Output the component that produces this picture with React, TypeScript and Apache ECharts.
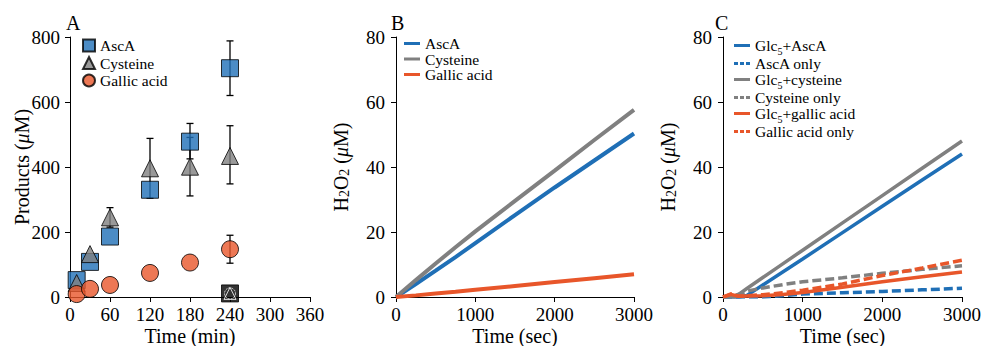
import React, { useEffect, useRef } from 'react';
import * as echarts from 'echarts';

const FONT = 'Liberation Serif';
const BLUE = '#1f6fb6';
const GRAY = '#808080';
const ORANGE = '#e8562a';

// ---------- Panel A ----------
const timesA = [10, 30, 60, 120, 180, 240];
const ascA = [52, 108, 186, 330, 478, 704];
const cysteineA = [43, 132, 245, 396, 401, 434];
const gallicA = [9, 25, 37, 74, 106, 147];
// [time, low, high]
const ascAErr = [[180, 425, 534], [240, 620, 788]];
const cysteineErr = [[60, 215, 275], [120, 304, 488], [180, 311, 491], [240, 348, 527]];
const gallicErr = [[240, 104, 190]];
const controlTime = [240];
const controlValue = [11];
const xTicksA = [0, 360, 60];
const yTicksA = [0, 800, 200];

// ---------- Panel B ----------
const timeB = [0, 250, 500, 750, 1000, 1500, 2000, 2500, 3000];
const ascB = [0, 4.0, 8.1, 12.3, 16.6, 25.2, 33.7, 42.0, 50.3];
const cysB = [0, 5.2, 10.3, 15.3, 20.2, 29.6, 38.9, 48.3, 57.6];
const galB = [0, 0.5, 1.1, 1.6, 2.2, 3.4, 4.6, 5.8, 7.0];

// ---------- Panel C ----------
const timeC = [0, 100, 150, 200, 300, 500, 750, 1000, 1500, 2000, 2500, 3000];
const glcAscC = [0, 0, 0, 0, 0.5, 3.7, 7.7, 11.7, 19.8, 27.9, 36.0, 44.0];
const ascOnlyC = [0, 0, 0, 0, 0, 0, 0.4, 0.9, 1.3, 1.7, 2.2, 2.7];
const glcCysC = [0, 0, 0, 0.9, 2.6, 6.0, 10.2, 14.4, 22.8, 31.2, 39.6, 48.0];
const cysOnlyC = [0, 0.3, 0.5, 0.9, 1.8, 2.8, 3.8, 4.7, 5.9, 7.3, 8.5, 9.6];
const glcGalC = [0, 0.8, 0.5, 0.2, 0.3, 0.4, 0.8, 1.4, 3.0, 4.7, 6.2, 7.7];
const galOnlyC = [0, 1.0, 0.6, 0.2, 0.4, 0.7, 1.3, 2.1, 4.0, 6.6, 8.9, 11.3];
const xTicksBC = [0, 3000, 1000];
const yTicksBC = [0, 80, 20];

const zip = (xs: number[], ys: number[]) => xs.map((x, i) => [x, ys[i]]);

const SOLID_ICON = 'path://M0 0H16V3H0Z';
const DASH_ICON = 'path://M0 0H4V3H0Z M6 0H10V3H6Z M12 0H16V3H12Z';

const LEG_FS = 15.5;
const NAME_FS = 20;
const TICK_FS = 19;

const legendRich = {
  a: { fontFamily: FONT, fontSize: LEG_FS, lineHeight: 15, color: '#000' },
};
const legendRichC = {
  a: { fontFamily: FONT, fontSize: LEG_FS, lineHeight: 21, color: '#000' },
  s: { fontFamily: FONT, fontSize: 10, color: '#000', lineHeight: 6, padding: [9, 0, 0, 0], verticalAlign: 'bottom' },
};
const nameRich = {
  a: { fontFamily: FONT, fontSize: NAME_FS, lineHeight: 20, color: '#000' },
  i: { fontFamily: FONT, fontSize: NAME_FS, lineHeight: 20, color: '#000', fontStyle: 'italic' },
  s: { fontFamily: FONT, fontSize: 14, color: '#000', lineHeight: 8, padding: [12, 0, 0, 0], verticalAlign: 'bottom' },
};

const legendFormat = (name: string) => {
  const n = name.replace(/^[A-C]:/, '');
  if (n.startsWith('Glc5')) return '{a|Glc}{s|5}{a|' + n.slice(4) + '}';
  return '{a|' + n + '}';
};

function axisX(gridIndex: number, t: number[], name: string) {
  return {
    type: 'value', gridIndex, min: t[0], max: t[1], interval: t[2],
    name, nameLocation: 'middle', nameGap: 29, nameMoveOverlap: false,
    nameTextStyle: { fontFamily: FONT, fontSize: NAME_FS, color: '#000', fontWeight: 'normal' },
    axisLine: { show: true, onZero: false, lineStyle: { color: '#000', width: 1 } },
    axisTick: { show: true, length: 5, lineStyle: { color: '#000' } },
    axisLabel: { color: '#000', fontFamily: FONT, fontSize: TICK_FS, margin: 8, formatter: (v: number) => String(v) },
    splitLine: { show: false },
  };
}
function axisY(gridIndex: number, t: number[], name: string, gap: number, margin: number) {
  return {
    type: 'value', gridIndex, min: t[0], max: t[1], interval: t[2],
    name, nameLocation: 'middle', nameGap: gap, nameRotate: 90, nameMoveOverlap: false,
    nameTextStyle: { rich: nameRich },
    axisLine: { show: true, onZero: false, lineStyle: { color: '#000', width: 1 } },
    axisTick: { show: true, length: 5, lineStyle: { color: '#000' } },
    axisLabel: { color: '#000', fontFamily: FONT, fontSize: TICK_FS, margin, formatter: (v: number) => String(v) },
    splitLine: { show: false },
  };
}

function errSeries(data: number[][]) {
  return {
    type: 'custom', xAxisIndex: 0, yAxisIndex: 0, z: 1, silent: true,
    data,
    encode: { x: 0, y: [1, 2] },
    renderItem: (params: any, api: any) => {
      const x = api.value(0);
      const lo = api.coord([x, api.value(1)]);
      const hi = api.coord([x, api.value(2)]);
      const c = 3.5;
      const st = { stroke: '#000', lineWidth: 1.3 };
      return {
        type: 'group',
        children: [
          { type: 'line', shape: { x1: lo[0], y1: lo[1], x2: hi[0], y2: hi[1] }, style: st },
          { type: 'line', shape: { x1: hi[0] - c, y1: hi[1], x2: hi[0] + c, y2: hi[1] }, style: st },
          { type: 'line', shape: { x1: lo[0] - c, y1: lo[1], x2: lo[0] + c, y2: lo[1] }, style: st },
        ],
      };
    },
  };
}

function lineSeries(name: string, axis: number, xs: number[], ys: number[], color: string, width: number, dashed: boolean) {
  return {
    name, type: 'line', xAxisIndex: axis, yAxisIndex: axis,
    data: zip(xs, ys), showSymbol: false, symbol: 'none', smooth: false,
    lineStyle: { color, width, type: dashed ? [9, 4] : 'solid', cap: 'butt' },
    itemStyle: { color },
  };
}

const lineLegend = (names: string[], dashed: boolean[]) =>
  names.map((n, i) => ({ name: n, icon: dashed[i] ? DASH_ICON : SOLID_ICON }));

export default function App() {
  const ref = useRef<HTMLDivElement>(null);
  useEffect(() => {
    document.body.style.margin = '0';
    const chart = echarts.init(ref.current!, undefined, { renderer: 'svg' });
    const letter = (t: string, x: number) => ({
      type: 'text', left: x, top: 13,
      style: { text: t, fontFamily: FONT, fontSize: NAME_FS, fill: '#000' },
    });
    chart.setOption({
      animation: false,
      grid: [
        { left: 70, top: 37, width: 240, height: 260, outerBoundsMode: 'none', containLabel: false },
        { left: 396, top: 37, width: 238, height: 260, outerBoundsMode: 'none', containLabel: false },
        { left: 723, top: 37, width: 239, height: 260, outerBoundsMode: 'none', containLabel: false },
      ],
      xAxis: [
        axisX(0, xTicksA, 'Time (min)'),
        axisX(1, xTicksBC, 'Time (sec)'),
        axisX(2, xTicksBC, 'Time (sec)'),
      ],
      yAxis: [
        axisY(0, yTicksA, '{a|Products (}{i|μ}{a|M)}', 38, 10),
        axisY(1, yTicksBC, '{a|H}{s|2}{a|O}{s|2}{a| (}{i|μ}{a|M)}', 45, 11),
        axisY(2, yTicksBC, '{a|H}{s|2}{a|O}{s|2}{a| (}{i|μ}{a|M)}', 45, 11),
      ],
      legend: [
        {
          data: ['A:AscA', 'A:Cysteine', 'A:Gallic acid'], orient: 'vertical', padding: 0,
          left: 82, top: 37.5, itemWidth: 12, itemHeight: 12, itemGap: 1.5,
          formatter: legendFormat, textStyle: { rich: legendRich },
          selectedMode: false,
        },
        {
          data: lineLegend(['B:AscA', 'B:Cysteine', 'B:Gallic acid'], [false, false, false]), orient: 'vertical',
          padding: 0, left: 404, top: 35.5, itemWidth: 16, itemHeight: 3, itemGap: -0.5,
          formatter: legendFormat, textStyle: { rich: legendRich }, selectedMode: false,
        },
        {
          data: lineLegend(
            ['C:Glc5+AscA', 'C:AscA only', 'C:Glc5+cysteine', 'C:Cysteine only', 'C:Glc5+gallic acid', 'C:Gallic acid only'],
            [false, true, false, true, false, true]),
          orient: 'vertical', padding: 0, left: 734, top: 37, itemWidth: 16, itemHeight: 3, itemGap: -0.5,
          formatter: legendFormat, textStyle: { rich: legendRichC }, selectedMode: false,
        },
      ],
      graphic: [letter('A', 66), letter('B', 391), letter('C', 715)],
      series: [
        errSeries(ascAErr),
        errSeries(cysteineErr),
        errSeries(gallicErr),
        {
          name: 'A:AscA', type: 'scatter', xAxisIndex: 0, yAxisIndex: 0, symbol: 'rect', symbolSize: 17,
          data: zip(timesA, ascA), itemStyle: { color: BLUE, borderColor: '#000', borderWidth: 1 }, z: 3,
        },
        {
          name: 'A:Cysteine', type: 'scatter', xAxisIndex: 0, yAxisIndex: 0, symbol: 'triangle', symbolSize: 17,
          data: zip(timesA, cysteineA), itemStyle: { color: GRAY, borderColor: '#000', borderWidth: 1 }, z: 4,
        },
        {
          name: 'A:Gallic acid', type: 'scatter', xAxisIndex: 0, yAxisIndex: 0, symbol: 'circle', symbolSize: 17,
          data: zip(timesA, gallicA), itemStyle: { color: ORANGE, borderColor: '#000', borderWidth: 1 }, z: 5,
        },
        {
          name: 'ctrl-square', type: 'scatter', xAxisIndex: 0, yAxisIndex: 0, symbol: 'rect', symbolSize: 17,
          data: zip(controlTime, controlValue), itemStyle: { color: '#000', borderColor: '#000', borderWidth: 1 }, z: 6,
        },
        {
          name: 'ctrl-triangle', type: 'scatter', xAxisIndex: 0, yAxisIndex: 0, symbol: 'triangle', symbolSize: 12,
          data: zip(controlTime, controlValue), itemStyle: { color: 'rgba(0,0,0,0)', borderColor: '#fff', borderWidth: 1 }, z: 7,
        },
        {
          name: 'ctrl-circle', type: 'scatter', xAxisIndex: 0, yAxisIndex: 0, symbol: 'circle', symbolSize: 11,
          data: zip(controlTime, controlValue), itemStyle: { color: 'rgba(0,0,0,0)', borderColor: '#fff', borderWidth: 1, borderType: [2, 1] }, z: 8,
        },
        lineSeries('B:AscA', 1, timeB, ascB, BLUE, 4, false),
        lineSeries('B:Cysteine', 1, timeB, cysB, GRAY, 4, false),
        lineSeries('B:Gallic acid', 1, timeB, galB, ORANGE, 4, false),
        lineSeries('C:Glc5+AscA', 2, timeC, glcAscC, BLUE, 3.5, false),
        lineSeries('C:AscA only', 2, timeC, ascOnlyC, BLUE, 3.5, true),
        lineSeries('C:Glc5+cysteine', 2, timeC, glcCysC, GRAY, 3.5, false),
        lineSeries('C:Cysteine only', 2, timeC, cysOnlyC, GRAY, 3.5, true),
        lineSeries('C:Glc5+gallic acid', 2, timeC, glcGalC, ORANGE, 3.5, false),
        lineSeries('C:Gallic acid only', 2, timeC, galOnlyC, ORANGE, 3.5, true),
      ],
    });
    return () => chart.dispose();
  }, []);
  return <div ref={ref} style={{ width: 981, height: 346 }} />;
}
